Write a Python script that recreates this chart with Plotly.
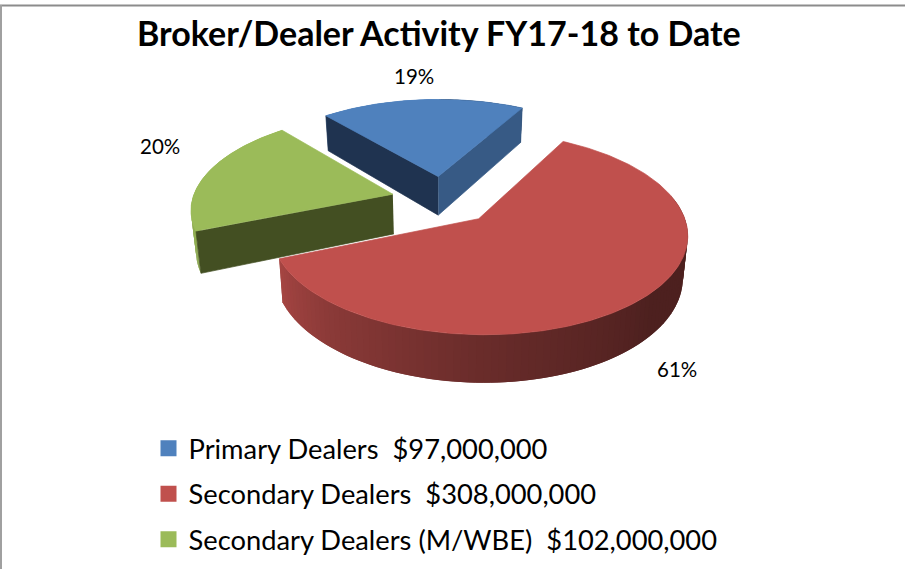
import numpy as np
import plotly.graph_objects as go

categories = ["Primary Dealers", "Secondary Dealers", "Secondary Dealers (M/WBE)"]
values = [97000000, 308000000, 102000000]
colors = ["#4f81bd", "#c0504d", "#9bbb59"]
start_face = ["#1f3350", "#7a2f2d", "#434f22"]
end_face = ["#375a85", "#7a2f2d", "#434f22"]
label_pos = [(414, 76), (677, 369), (160, 146)]
title = "Broker/Dealer Activity FY17-18 to Date"

W, H = 905, 569
CX, CY = 443, 200
SX, SY = 200.5, 94
PERSP = 0.14
EXPLODE = 0.26
WALL = 40
START_DEG = -40


def project(X, Y, drop=0.0):
    d = 1 + PERSP * Y
    shrink = 1 - 0.02 * drop
    return CX + SX * X / d * shrink, CY - SY * Y / d + drop * WALL / d


def shade(hex_color, f):
    r, g, b = (int(hex_color[i:i + 2], 16) for i in (1, 3, 5))
    return f"rgb({r * f:.0f},{g * f:.0f},{b * f:.0f})"


def poly(fig, xs, ys, color, edge=True):
    fig.add_trace(go.Scatter(x=list(xs), y=list(ys), mode="lines", fill="toself",
                             fillcolor=color, line=dict(color=color, width=0.7 if edge else 0),
                             hoverinfo="skip", showlegend=False))


fig = go.Figure()
total = sum(values)
angles = np.cumsum([0] + [v / total * 360 for v in values]) + START_DEG

for i, (a0, a1) in enumerate(zip(angles[:-1], angles[1:])):
    mid = np.radians((a0 + a1) / 2)
    ox, oy = EXPLODE * np.sin(mid), EXPLODE * np.cos(mid)
    th = np.radians(np.linspace(a0, a1, 241))
    gx, gy = ox + np.sin(th), oy + np.cos(th)

    # outer wall, drawn as overlapping shaded strips
    tx, ty = project(gx, gy)
    bx, by = project(gx, gy, 1)
    for j in range(0, len(th) - 1, 2):
        k = min(j + 4, len(th) - 1)
        deg = np.degrees(th[j]) % 360
        if np.cos(th[j]) > 0.25 and not (a0 + 360 * (a0 < 0) > 200):
            continue
        f = float(np.interp(deg, [90, 130, 180, 220, 250, 275], [0.40, 0.40, 0.55, 0.72, 0.88, 1.0]))
        poly(fig, [tx[j], tx[k], bx[k], bx[j]], [ty[j], ty[k], by[k], by[j]], shade(colors[i], f), edge=False)

    # radial cut faces, only those turned towards the viewer
    ax, ay = project(ox, oy)
    abx, aby = project(ox, oy, 1)
    if np.cos(np.radians(a1 + 90)) < 0:
        poly(fig, [ax, tx[-1], bx[-1], abx], [ay, ty[-1], by[-1], aby], end_face[i])
    if np.cos(np.radians(a0 - 90)) < 0:
        poly(fig, [ax, tx[0], bx[0], abx], [ay, ty[0], by[0], aby], start_face[i])

    # top face
    poly(fig, [ax, *tx, ax], [ay, *ty, ay], colors[i])

for name, v, c in zip(categories, values, colors):
    fig.add_trace(go.Scatter(x=[None], y=[None], mode="markers",
                             name=f"{name}\u00a0\u00a0${v:,.0f}", legendgroup=name,
                             marker=dict(symbol="square", size=18, color=c), hoverinfo="skip"))

for v, (x, y) in zip(values, label_pos):
    fig.add_annotation(x=x, y=y, text=f"{v / total * 100:.0f}%", showarrow=False,
                       font=dict(family="Lato", size=20.5, color="#000000"))

fig.add_annotation(x=439, y=32, text=f"<b>{title}</b>", showarrow=False,
                   font=dict(family="Lato", size=34, color="#000000"))

fig.update_layout(
    width=W, height=H, margin=dict(l=0, r=0, t=0, b=0, autoexpand=False),
    paper_bgcolor="white", plot_bgcolor="white",
    xaxis=dict(range=[0, W], visible=False, fixedrange=True),
    yaxis=dict(range=[H, 0], visible=False, fixedrange=True),
    legend=dict(x=148.5 / W, y=1 - 424 / H, xanchor="left", yanchor="top",
                font=dict(family="Lato", size=27.3, color="#000000"),
                tracegroupgap=7, bgcolor="rgba(0,0,0,0)", itemsizing="trace"),
    shapes=[
        dict(type="line", xref="paper", yref="paper", x0=0, x1=1, y0=1 - 5.5 / H, y1=1 - 5.5 / H,
             line=dict(color="#8c8c8c", width=2)),
        dict(type="line", xref="paper", yref="paper", x0=1 / W, x1=1 / W, y0=0, y1=1 - 5 / H,
             line=dict(color="#a0a0a0", width=2)),
    ],
)
fig.write_html("out.html", config={"displayModeBar": False},
               post_script="document.body.style.margin='0';document.documentElement.style.overflow='hidden';")
